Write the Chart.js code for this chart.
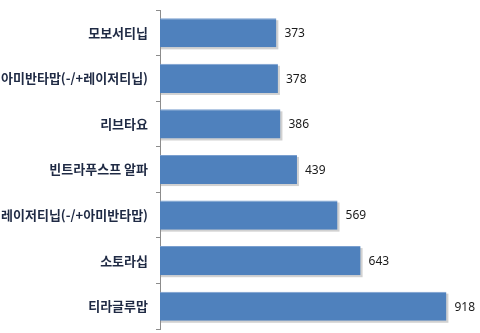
<!DOCTYPE html>
<html>
<head>
<meta charset="utf-8">
<script src="https://cdn.jsdelivr.net/npm/chart.js@4"></script>
<style>
  html, body { margin: 0; padding: 0; background: #fff; }
  #wrap { width: 480px; height: 333px; }
</style>
</head>
<body>
<div id="wrap"><canvas id="barChart"></canvas></div>
<script>
// data
var drugs = ['모보서티닙', '아미반타맙(-/+레이저티닙)', '리브타요', '빈트라푸스프 알파', '레이저티닙(-/+아미반타맙)', '소토라십', '티라글루맙'];
var prices = [373, 378, 386, 439, 569, 643, 918];

// bar shadow + value labels
var barExtras = {
    id: 'barExtras',
    beforeDatasetsDraw: function (chart) {
        var c = chart.ctx;
        chart.getDatasetMeta(0).data.forEach(function (bar) {
            c.save();
            c.fillStyle = 'rgba(0,0,0,0.18)';
            c.fillRect(bar.base + 1, bar.y - bar.height / 2 + 2, bar.x - bar.base + 1, bar.height);
            c.restore();
        });
    },
    afterDatasetsDraw: function (chart) {
        var c = chart.ctx;
        c.save();
        c.font = '12px "Noto Sans", sans-serif';
        c.fillStyle = '#1a1a1a';
        c.textBaseline = 'middle';
        chart.getDatasetMeta(0).data.forEach(function (bar, i) {
            c.fillText(prices[i], bar.x + 8, bar.y + 1);
        });
        c.restore();
    }
};

var ctx = document.getElementById('barChart').getContext('2d');
var barChart = new Chart(ctx, {
    type: 'bar',
    data: {
        labels: drugs,
        datasets: [{
            data: prices,
            backgroundColor: '#4F81BD',
            borderColor: '#7A9FCF',
            borderWidth: { top: 1, right: 0, bottom: 0, left: 0 },
            borderSkipped: false,
            barPercentage: 0.64,
            categoryPercentage: 1
        }]
    },
    options: {
        indexAxis: 'y',
        responsive: true,
        maintainAspectRatio: false,
        animation: false,
        layout: { padding: { top: 10, right: 8, bottom: 4, left: 0 } },
        plugins: { legend: { display: false }, tooltip: { enabled: false } },
        scales: {
            x: { display: false, min: 0, max: 1000 },
            y: {
                afterFit: function (scale) {
                    scale.width = 160;
                    scale.paddingTop = 0;
                    scale.paddingBottom = 0;
                },
                border: { color: '#8c8c8c', width: 1 },
                grid: { drawOnChartArea: false, tickLength: 4, color: '#8c8c8c', offset: true },
                ticks: {
                    color: '#1F2A44',
                    padding: 8,
                    font: { family: '"Noto Sans CJK KR", sans-serif', size: 13, weight: 'bold' }
                }
            }
        }
    },
    plugins: [barExtras]
});
</script>
</body>
</html>
